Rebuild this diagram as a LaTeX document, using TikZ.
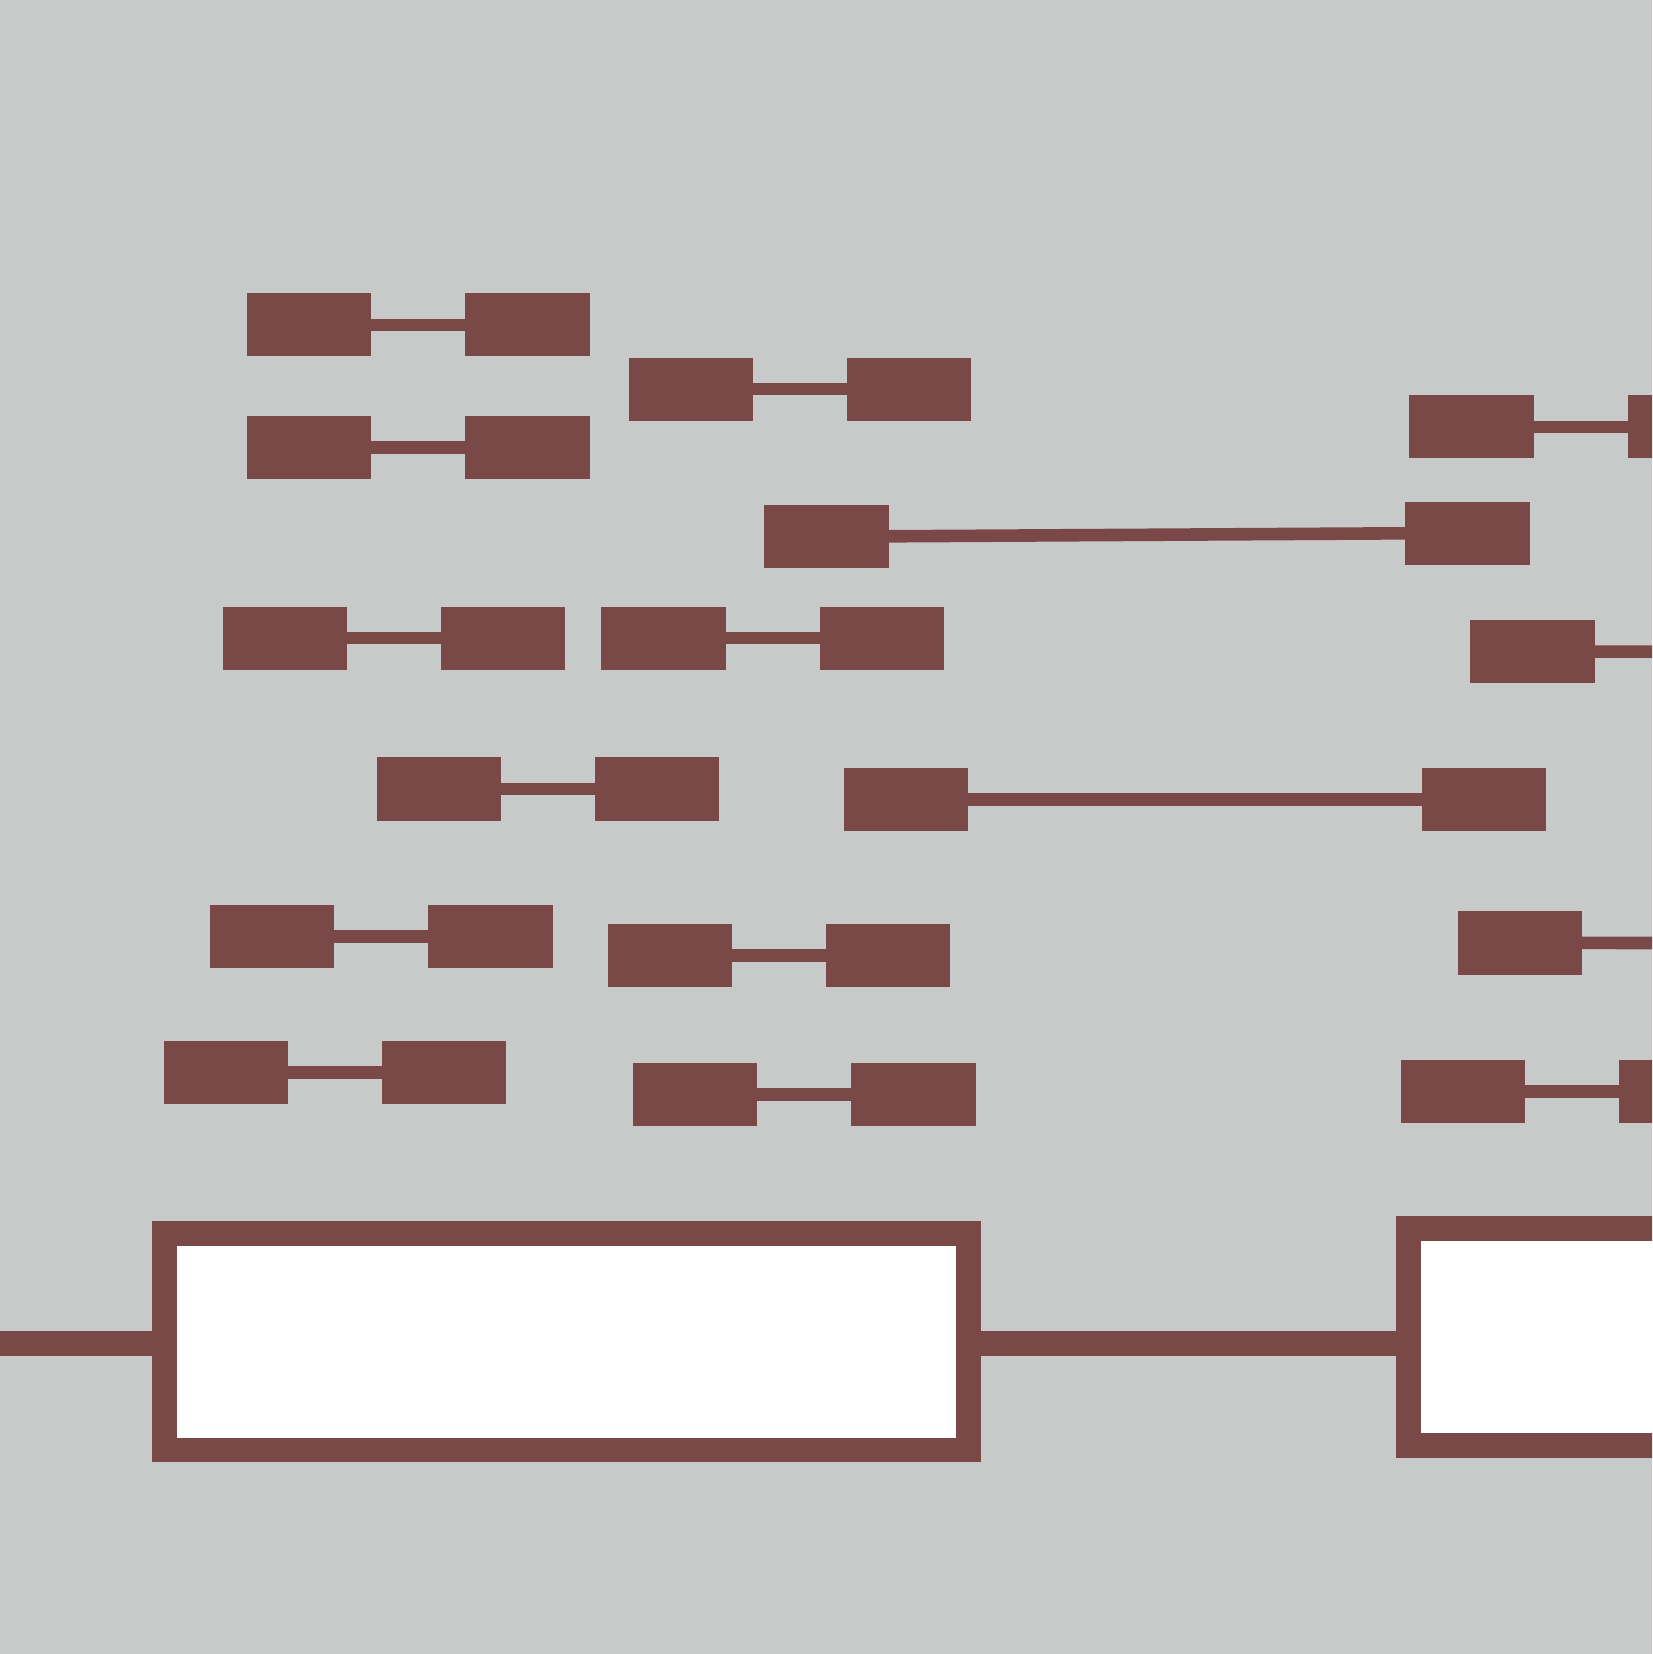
\documentclass[tikz,border=0pt]{standalone}
\definecolor{bggray}{RGB}{199,202,201}
\definecolor{maroon}{RGB}{123,72,72}
\tikzset{
  blk/.style={rectangle, fill=maroon, draw=none, inner sep=0pt, outer sep=0pt,
    minimum width=124.5pt, minimum height=63.2pt, anchor=north west},
  conn/.style={draw=maroon, line width=12.6pt},
  bigbox/.style={rectangle, draw=maroon, fill=white, line width=24.8pt, inner sep=0pt, outer sep=0pt},
  mainline/.style={draw=maroon, line width=24.6pt}
}
\begin{document}
\begin{tikzpicture}[x=1pt,y=-1pt]
\useasboundingbox (0,0) rectangle (1652,1654);
\clip (0,0) rectangle (1652,1654);
\fill[bggray] (0,0) rectangle (1652,1654);

% pairs
\node[blk] (a1) at (246.8,293.2) {};
\node[blk] (b1) at (465.1,293.2) {};
\node[blk] (a2) at (246.8,415.6) {};
\node[blk] (b2) at (465.1,415.6) {};
\node[blk] (a3) at (628.6,357.5) {};
\node[blk] (b3) at (846.9,357.5) {};
\node[blk] (a4) at (1409.2,395.2) {};
\node[blk] (b4) at (1627.6,395.2) {};
\node[blk] (a5) at (764.0,504.7) {};
\node[blk] (b5) at (1405.3,501.7) {};
\node[blk] (a6) at (222.5,606.5) {};
\node[blk] (b6) at (440.9,606.5) {};
\node[blk] (a7) at (601.2,606.5) {};
\node[blk] (b7) at (819.5,606.5) {};
\node[blk] (a8) at (1470.0,620.0) {};
\coordinate (e8) at (1670,651.6);
\node[blk] (a9) at (376.5,757.3) {};
\node[blk] (b9) at (594.9,757.3) {};
\node[blk] (a10) at (843.8,767.8) {};
\node[blk] (b10) at (1421.7,767.8) {};
\node[blk] (a11) at (209.9,904.9) {};
\node[blk] (b11) at (428.2,904.9) {};
\node[blk] (a12) at (607.5,923.9) {};
\node[blk] (b12) at (825.8,923.9) {};
\node[blk] (a13) at (1457.6,911.3) {};
\coordinate (e13) at (1670,943.0);
\node[blk] (a14) at (163.5,1041.0) {};
\node[blk] (b14) at (381.8,1041.0) {};
\node[blk] (a15) at (632.8,1063.1) {};
\node[blk] (b15) at (851.1,1063.1) {};
\node[blk] (a16) at (1400.6,1060.0) {};
\node[blk] (b16) at (1619.0,1060.0) {};

\draw[conn] (a1.east) -- (b1.west);
\draw[conn] (a2.east) -- (b2.west);
\draw[conn] (a3.east) -- (b3.west);
\draw[conn] (a4.east) -- (b4.west);
\draw[conn] (a5.east) -- (b5.west);
\draw[conn] (a6.east) -- (b6.west);
\draw[conn] (a7.east) -- (b7.west);
\draw[conn] (a8.east) -- (e8);
\draw[conn] (a9.east) -- (b9.west);
\draw[conn] (a10.east) -- (b10.west);
\draw[conn] (a11.east) -- (b11.west);
\draw[conn] (a12.east) -- (b12.west);
\draw[conn] (a13.east) -- (e13);
\draw[conn] (a14.east) -- (b14.west);
\draw[conn] (a15.east) -- (b15.west);
\draw[conn] (a16.east) -- (b16.west);

% bottom track
\coordinate (s) at (-20,1343.3);
\node[bigbox, minimum width=803.8pt, minimum height=216.8pt] (L) at (566.6,1341.5) {};
\node[bigbox, minimum width=400pt, minimum height=216.9pt] (R) at (1608.4,1337.2) {};
\draw[mainline] (s) -- (L.west |- s);
\draw[mainline] (L.east |- s) -- (R.west |- s);
\end{tikzpicture}
\end{document}
